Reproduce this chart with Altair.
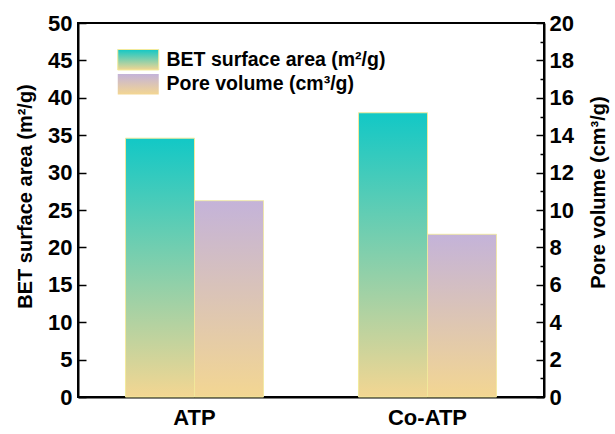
import altair as alt
import pandas as pd

# Samples and measured textural properties
samples = ["ATP", "Co-ATP"]
bet_area = [34.6, 38.0]      # BET surface area, m²/g
pore_volume = [10.5, 8.7]    # pore volume, cm³/g

BET = "BET surface area (m²/g)"
PORE = "Pore volume (cm³/g)"
series_order = [BET, PORE]

FONT = "Liberation Sans"
SAND = "#F3D692"
TEAL = "#12C8C6"
LAVENDER = "#C4B3D9"
EDGE = "#F2EA9C"

bet_df = pd.DataFrame({"sample": samples, "series": BET, "value": bet_area})
pore_df = pd.DataFrame({"sample": samples, "series": PORE, "value": pore_volume})


def vgrad(top):
    return {
        "gradient": "linear",
        "x1": 0, "y1": 1, "x2": 0, "y2": 0,
        "stops": [{"offset": 0, "color": SAND}, {"offset": 1, "color": top}],
    }


def legend_for(row):
    # one legend per series so each swatch carries its own bar gradient
    return alt.Legend(
        title=None,
        orient="none",
        legendX=49.25,
        legendY=25.75 + 24.5 * row,
        padding=0,
        symbolType="M-2,-1H2V1H-2Z",
        symbolSize=420,
        symbolStrokeWidth=1,
        symbolStrokeColor=EDGE,
        symbolOpacity=1,
        labelOffset=17.25,
        labelFont=FONT,
        labelFontSize=19.5,
        labelFontWeight="bold",
        labelColor="black",
        labelLimit=400,
    )


x_enc = alt.X(
    "sample:N",
    sort=samples,
    scale=alt.Scale(paddingInner=0, paddingOuter=0),
    axis=alt.Axis(
        title=None, labelAngle=0, labelFontSize=22, labelPadding=15,
        tickSize=alt.ExprRef("-5"), domainWidth=2,
    ),
)
offset_enc = alt.XOffset(
    "series:N",
    scale=alt.Scale(domain=series_order, paddingInner=0, paddingOuter=0.688),
)

bet_bars = alt.Chart(bet_df).mark_bar(fill=vgrad(TEAL), strokeWidth=1).encode(
    x=x_enc,
    xOffset=offset_enc,
    y=alt.Y(
        "value:Q",
        scale=alt.Scale(domain=[0, 50], nice=False),
        axis=alt.Axis(
            orient="left",
            values=list(range(0, 51, 5)),
            title=BET,
            titleX=-53,
            titleY=173,
            titleAngle=270,
            titleAlign="center",
            titleBaseline="middle",
            labelFontSize=22,
            labelPadding=14,
            labelOverlap=False,
            labelFlush=False,
            tickSize=alt.ExprRef("-8"),
            grid=False,
        ),
    ),
    stroke=alt.Stroke(
        "series:N",
        scale=alt.Scale(domain=[BET], range=[EDGE]),
        legend=legend_for(0),
    ),
)

pore_bars = alt.Chart(pore_df).mark_bar(
    fill=vgrad(LAVENDER), stroke=EDGE, strokeWidth=1
).encode(
    x=x_enc,
    xOffset=offset_enc,
    y=alt.Y(
        "value:Q",
        scale=alt.Scale(domain=[0, 20], nice=False),
        axis=alt.Axis(
            orient="right",
            values=list(range(0, 21, 2)),
            title=PORE,
            titleX=54,
            titleY=169,
            titleAngle=270,
            titleAlign="center",
            titleBaseline="middle",
            labelFontSize=22,
            labelPadding=13,
            labelOverlap=False,
            labelFlush=False,
            tickSize=alt.ExprRef("-8"),
            grid=False,
        ),
    ),
    strokeDash=alt.StrokeDash(
        "series:N",
        scale=alt.Scale(domain=[PORE], range=[[1, 0]]),
        legend=legend_for(1),
    ),
)

# Minor ticks of the pore-volume axis (odd values), carried by an invisible copy
pore_minor = alt.Chart(pore_df).mark_bar(opacity=0).encode(
    x=x_enc,
    xOffset=offset_enc,
    y=alt.Y(
        "value:Q",
        scale=alt.Scale(domain=[0, 20], nice=False),
        axis=alt.Axis(
            orient="right",
            values=list(range(1, 20, 2)),
            labels=False,
            domain=False,
            title=None,
            tickSize=alt.ExprRef("-4"),
            grid=False,
        ),
    ),
)

chart = (
    alt.layer(bet_bars, pore_bars, pore_minor)
    .resolve_scale(y="independent", stroke="independent", strokeDash="independent")
    .properties(
        width=466,
        height=374,
        padding={"left": 78, "top": 23, "right": 71, "bottom": 37},
        autosize=alt.AutoSizeParams(type="none"),
        background="white",
    )
    .configure_view(stroke="black", strokeWidth=2)
    .configure_axis(
        domainColor="black",
        domainWidth=2,
        tickColor="black",
        tickWidth=1.5,
        labelFont=FONT,
        labelFontWeight="bold",
        labelColor="black",
        titleFont=FONT,
        titleFontWeight="bold",
        titleFontSize=20,
        titleColor="black",
    )
)

chart.save("out.html", embed_options={"renderer": "svg", "actions": False})
